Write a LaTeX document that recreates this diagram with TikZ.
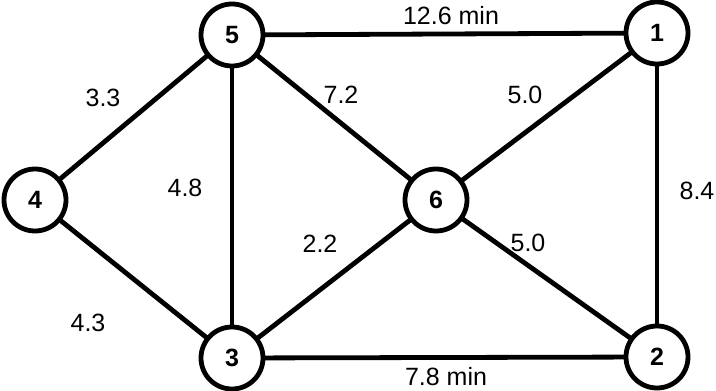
\documentclass[tikz,border=0pt]{standalone}
\usepackage{fontspec}
\setmainfont{Liberation Sans}
\begin{document}
\begin{tikzpicture}[x=1pt,y=1pt,
  vertex/.style={circle,draw=black,line width=4.8pt,fill=white,minimum size=62pt,inner sep=0pt,
    font=\fontsize{25}{25}\selectfont\bfseries},
  edge/.style={line width=4.8pt,draw=black},
  wlabel/.style={font=\fontsize{25}{25}\selectfont,inner sep=0pt}]
\useasboundingbox (0,0) rectangle (716,391);
% edges first, vertices on top
\coordinate (p5) at (232,356);
\coordinate (p1) at (657,358);
\coordinate (p4) at (35,191);
\coordinate (p6) at (436,191);
\coordinate (p3) at (232,33);
\coordinate (p2) at (657,34);
\draw[edge] (p5) -- (p1);
\draw[edge] (p5) -- (p4);
\draw[edge] (p5) -- (p3);
\draw[edge] (p5) -- (p6);
\draw[edge] (p1) -- (p6);
\draw[edge] (p1) -- (p2);
\draw[edge] (p4) -- (p3);
\draw[edge] (p3) -- (p6);
\draw[edge] (p6) -- (p2);
\draw[edge] (p3) -- (p2);
% vertices
\node[vertex] (n5) at (p5) {5};
\node[vertex] (n1) at (p1) {1};
\node[vertex] (n4) at (p4) {4};
\node[vertex] (n6) at (p6) {6};
\node[vertex] (n3) at (p3) {3};
\node[vertex] (n2) at (p2) {2};
% travel times
\node[wlabel] (l51) at (451,375) {12.6 min};
\node[wlabel] (l54) at (103,293) {3.3};
\node[wlabel] (l56) at (341,296) {7.2};
\node[wlabel] (l16) at (525,296) {5.0};
\node[wlabel] (l53) at (185,203) {4.8};
\node[wlabel] (l12) at (697,200) {8.4};
\node[wlabel] (l36) at (320,147) {2.2};
\node[wlabel] (l62) at (528,148) {5.0};
\node[wlabel] (l43) at (88,68) {4.3};
\node[wlabel] (l32) at (446,14) {7.8 min};
\end{tikzpicture}
\end{document}
